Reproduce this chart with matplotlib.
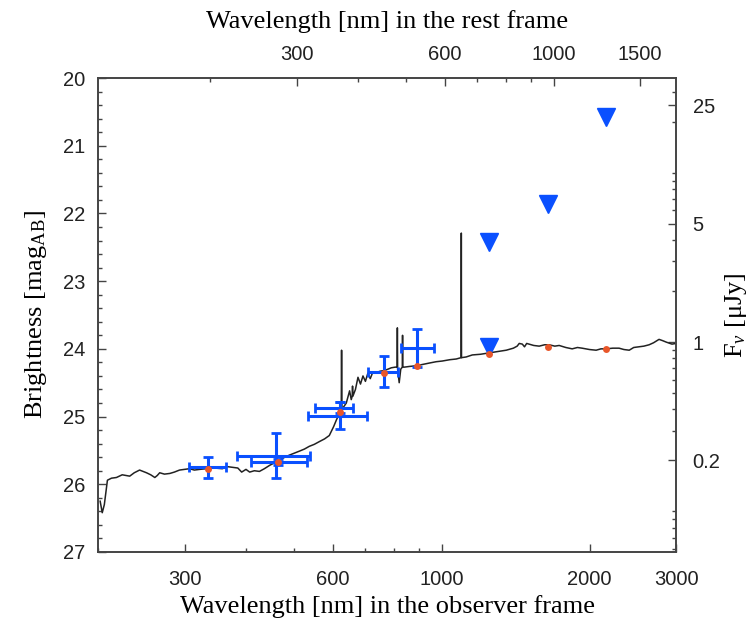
import numpy as np
import matplotlib
matplotlib.use('Agg')
import matplotlib.pyplot as plt
from matplotlib.ticker import FixedLocator, FuncFormatter, NullFormatter

# redshift linking observer frame and rest frame
z = 0.69

# model spectrum: observed wavelength [nm], AB magnitude
spec_wl = [202, 204, 206, 209, 213, 218, 224, 228, 232, 237, 243, 247, 251, 256, 261,
           264, 267, 273, 280, 286, 293, 300, 307, 314, 322, 332, 345, 358, 367, 376,
           385, 392, 400, 407, 416, 426, 436, 447, 458, 468, 480, 490, 502, 514, 526,
           538, 551, 564, 578, 591, 603, 611, 620, 625, 626, 627, 633, 640, 650, 655,
           658, 659, 660, 668, 676, 684, 692, 700, 708, 716, 725, 737, 750, 765, 778,
           790, 805, 812, 813, 814, 820, 826, 832, 833, 834, 840, 860, 888, 915, 944,
           975, 1003, 1040, 1071, 1096, 1097, 1098, 1122, 1155, 1200, 1251, 1300, 1354,
           1400, 1425, 1439, 1460, 1475, 1490, 1507, 1540, 1580, 1620, 1656, 1700, 1735,
           1790, 1844, 1890, 1932, 2000, 2063, 2110, 2163, 2230, 2297, 2350, 2409, 2460,
           2524, 2580, 2644, 2700, 2770, 2820, 2864, 2943, 3000]
spec_mag = [26.25, 26.42, 26.3, 25.94, 25.91, 25.9, 25.86, 25.87, 25.88, 25.83, 25.79,
            25.81, 25.83, 25.86, 25.9, 25.87, 25.83, 25.85, 25.84, 25.82, 25.79, 25.78,
            25.77, 25.79, 25.78, 25.77, 25.76, 25.77, 25.74, 25.75, 25.76, 25.82, 25.78,
            25.82, 25.80, 25.81, 25.77, 25.72, 25.68, 25.64, 25.6, 25.57, 25.54, 25.51,
            25.48, 25.44, 25.41, 25.37, 25.33, 25.28, 25.15, 25.05, 24.95, 24.92, 24.02,
            24.9, 24.85, 24.8, 24.62, 24.75, 24.7, 24.55, 24.7, 24.6, 24.42, 24.52, 24.4,
            24.48, 24.36, 24.44, 24.34, 24.35, 24.33, 24.32, 24.3, 24.28, 24.27, 24.27,
            23.69, 24.3, 24.5, 24.3, 24.27, 23.8, 24.27, 24.27, 24.26, 24.25, 24.23,
            24.21, 24.19, 24.18, 24.16, 24.15, 24.13, 22.29, 24.13, 24.12, 24.09, 24.08,
            24.06, 24.04, 24.02, 23.99, 23.96, 23.92, 23.93, 23.97, 23.92, 23.93, 23.95,
            23.96, 23.94, 23.94, 23.96, 23.95, 23.98, 24.0, 23.98, 23.99, 24.01, 24.02,
            24.0, 24.0, 23.99, 23.99, 24.01, 24.02, 23.98, 23.97, 23.96, 23.94, 23.91,
            23.86, 23.88, 23.9, 23.93, 23.92]

# measured photometry: centre, filter edges, magnitude, magnitude error
phot_wl = [335, 460, 465, 620, 620, 762, 892]
phot_wl_lo = [307, 383, 410, 553, 534, 709, 828]
phot_wl_hi = [365, 540, 533, 659, 706, 816, 966]
phot_mag = [25.75, 25.58, 25.67, 24.87, 24.99, 24.34, 23.99]
phot_err = [0.15, 0.33, 0.05, 0.08, 0.2, 0.23, 0.28]

# upper limits
lim_wl = [1251, 1251, 1645, 2160]
lim_mag = [22.42, 23.97, 21.86, 20.58]

# model magnitudes in the filters
mod_wl = [335, 465, 620, 762, 892, 1251, 1645, 2160]
mod_mag = [25.78, 25.67, 24.93, 24.35, 24.25, 24.08, 23.97, 24.0]

bottom_ticks = [300, 600, 1000, 2000, 3000]
bottom_minor = [200, 400, 500, 700, 800, 900]
top_ticks = [300, 600, 1000, 1500]
top_minor = [200, 400, 500, 700, 800, 900]
right_ticks = [0.2, 1, 5, 25]
right_minor = [0.06, 0.07, 0.08, 0.09, 0.1, 0.3, 0.4, 0.5, 0.6, 0.7, 0.8, 0.9,
               2, 3, 4, 6, 7, 8, 9, 10, 20, 30]

blue = '#0a50ff'
red = '#e8562a'
frame = '#444444'
tsize = 14.5
lsize = 19

plt.rcParams['font.family'] = ['Liberation Sans', 'DejaVu Sans']
plt.rcParams['mathtext.fontset'] = 'custom'
plt.rcParams['mathtext.rm'] = 'Liberation Serif'
plt.rcParams['mathtext.it'] = 'Liberation Serif:italic'
serif = ['Liberation Serif', 'DejaVu Serif']

fig = plt.figure(figsize=(7.5, 6.24), dpi=100)
ax = fig.add_axes([0.1307, 0.1154, 0.7707, 0.7596])

ax.plot(spec_wl, spec_mag, color='#222222', lw=1.1, zorder=2)

wl = np.array(phot_wl)
xerr = [wl - np.array(phot_wl_lo), np.array(phot_wl_hi) - wl]
ax.errorbar(phot_wl, phot_mag, xerr=xerr, yerr=phot_err, fmt='none', ecolor=blue,
            elinewidth=2.2, capsize=3.5, capthick=2, zorder=3)
ax.plot(lim_wl, lim_mag, 'v', color=blue, ms=13, mec=blue, zorder=4, linestyle='none')
ax.plot(mod_wl, mod_mag, 'o', color=red, ms=5, mec='none', zorder=5, linestyle='none')

ax.set_xscale('log')
ax.set_xlim(200, 3000)
ax.set_ylim(27, 20)

fmt = FuncFormatter(lambda v, p: '%g' % v)

ax.xaxis.set_major_locator(FixedLocator(bottom_ticks))
ax.xaxis.set_minor_locator(FixedLocator(bottom_minor))
ax.xaxis.set_major_formatter(fmt)
ax.xaxis.set_minor_formatter(NullFormatter())
ax.yaxis.set_major_locator(FixedLocator(range(20, 28)))
ax.yaxis.set_minor_locator(FixedLocator(np.arange(20, 27.01, 0.2)))
ax.tick_params(which='both', direction='in', colors=frame, labelcolor='#222222', labelsize=tsize)
ax.tick_params(which='major', length=6, width=1)
ax.tick_params(which='minor', length=3, width=1)
ax.tick_params(axis='x', pad=13)
ax.tick_params(axis='y', pad=9)
for s in ax.spines.values():
    s.set_color(frame)
    s.set_linewidth(1.4)

# rest frame wavelength on top
top = ax.secondary_xaxis('top', functions=(lambda x: x / (1 + z), lambda x: x * (1 + z)))
top.xaxis.set_major_locator(FixedLocator(top_ticks))
top.xaxis.set_minor_locator(FixedLocator(top_minor))
top.xaxis.set_major_formatter(fmt)
top.xaxis.set_minor_formatter(NullFormatter())
top.tick_params(which='both', direction='in', colors=frame, labelcolor='#222222', labelsize=tsize)
top.tick_params(which='major', length=6, width=1, pad=10)
top.tick_params(which='minor', length=3, width=1)
top.spines['top'].set_visible(False)

# flux density on the right
right = ax.secondary_yaxis('right', functions=(lambda m: 10 ** ((23.9 - m) / 2.5),
                                               lambda f: 23.9 - 2.5 * np.log10(f)))
right.yaxis.set_major_locator(FixedLocator(right_ticks))
right.yaxis.set_minor_locator(FixedLocator(right_minor))
right.yaxis.set_major_formatter(fmt)
right.yaxis.set_minor_formatter(NullFormatter())
right.tick_params(which='both', direction='in', colors=frame, labelcolor='#222222', labelsize=tsize)
right.tick_params(which='major', length=6, width=1, pad=12)
right.tick_params(which='minor', length=3, width=1)
right.spines['right'].set_visible(False)

ax.set_xlabel('Wavelength [nm] in the observer frame', family=serif, fontsize=lsize, labelpad=4)
ax.set_ylabel('Brightness [mag$_\\mathrm{AB}$]', family=serif, fontsize=lsize, labelpad=10)
top.set_xlabel('Wavelength [nm] in the rest frame', family=serif, fontsize=lsize, labelpad=12)
right.set_ylabel('F$_\\nu$ [\u03bcJy]', family=serif, fontsize=lsize, labelpad=2)

fig.savefig('out.png', dpi=100)
